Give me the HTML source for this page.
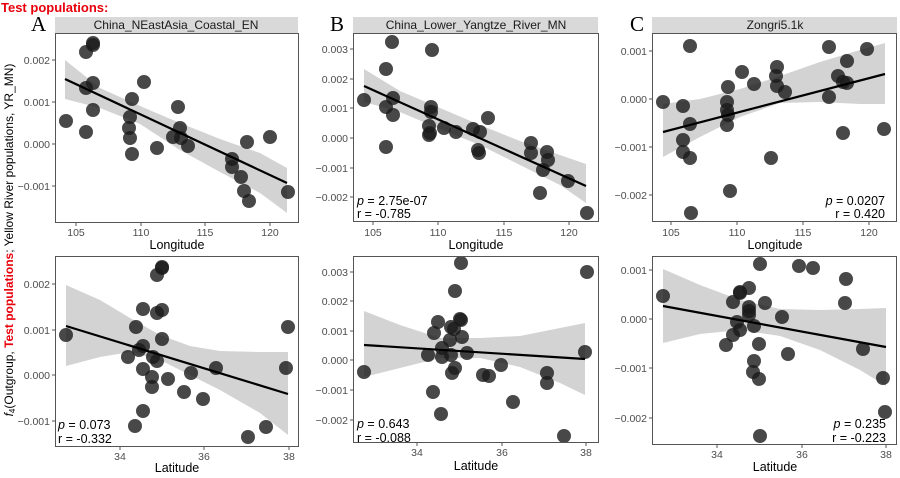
<!DOCTYPE html>
<html><head><meta charset="utf-8"><style>
body{margin:0;background:#fff;width:900px;height:478px;overflow:hidden}
svg{display:block;font-family:"Liberation Sans",sans-serif}
.tk{font-size:10.5px;fill:#4d4d4d}
.ax{font-size:12.5px;fill:#000}
.st{font-size:12px;fill:#1a1a1a}
.an{font-size:12.5px;fill:#000}
.pl{font-family:"Liberation Serif",serif;font-size:21px;fill:#000}
.band{fill:#d3d3d3}
.pt circle{fill:#1a1a1a;fill-opacity:0.8;r:7}
.fr{fill:none;stroke:#555;stroke-width:1}
.tl{stroke:#555;stroke-width:1}
.ln{stroke:#000;stroke-width:2.2}
</style></head><body>
<svg width="900" height="478" viewBox="0 0 900 478">
<text x="1" y="12" style="font-size:13px;font-weight:bold;fill:#e8000b">Test populations:</text>
<text transform="translate(13,240) rotate(-90)" text-anchor="middle" style="font-size:12px;fill:#000"><tspan font-style="italic">f</tspan><tspan font-size="8" dy="2">4</tspan><tspan dy="-2">(Outgroup, </tspan><tspan style="fill:#e8000b;font-weight:bold">Test populations</tspan><tspan>; Yellow River populations, YR_MN)</tspan></text>

<!-- Panel A top -->
<text class="pl" x="31" y="31">A</text>
<rect x="55" y="17" width="243" height="16" fill="#d9d9d9"/>
<text class="st" x="176" y="29" text-anchor="middle">China_NEastAsia_Coastal_EN</text>
<polygon class="band" points="65,60 100,88 140,106 180,123 220,139 260,153 287,168 287,213 260,193 220,172 180,150 140,124 100,108 65,99"/>
<g class="pt"><circle cx="66" cy="121"/><circle cx="86" cy="52"/><circle cx="93" cy="43"/><circle cx="93" cy="45"/><circle cx="86" cy="88"/><circle cx="93" cy="83"/><circle cx="93" cy="110"/><circle cx="86" cy="132"/><circle cx="132" cy="99"/><circle cx="130" cy="117"/><circle cx="129" cy="128"/><circle cx="130" cy="138"/><circle cx="132" cy="154"/><circle cx="144" cy="82"/><circle cx="157" cy="148"/><circle cx="178" cy="107"/><circle cx="180" cy="128"/><circle cx="173" cy="137"/><circle cx="181" cy="138"/><circle cx="188" cy="146"/><circle cx="232" cy="159"/><circle cx="232" cy="167"/><circle cx="241" cy="177"/><circle cx="244" cy="191"/><circle cx="247" cy="142"/><circle cx="249" cy="201"/><circle cx="270" cy="137"/><circle cx="288" cy="192"/></g>
<line class="ln" x1="65" y1="79" x2="287" y2="183"/>
<rect class="fr" x="55.5" y="33.5" width="243" height="189"/>
<g class="tl"><line x1="52" y1="60" x2="55" y2="60"/><line x1="52" y1="102" x2="55" y2="102"/><line x1="52" y1="144" x2="55" y2="144"/><line x1="52" y1="186" x2="55" y2="186"/>
<line x1="76" y1="223" x2="76" y2="226"/><line x1="141" y1="223" x2="141" y2="226"/><line x1="205" y1="223" x2="205" y2="226"/><line x1="270" y1="223" x2="270" y2="226"/></g>
<g class="tk" text-anchor="end"><text x="50" y="64">0.002</text><text x="50" y="106">0.001</text><text x="50" y="148">0.000</text><text x="50" y="190">−0.001</text></g>
<g class="tk" text-anchor="middle"><text x="76" y="236">105</text><text x="141" y="236">110</text><text x="205" y="236">115</text><text x="270" y="236">120</text></g>
<text class="ax" x="177" y="249" text-anchor="middle">Longitude</text>

<!-- Panel B top -->
<text class="pl" x="330" y="31">B</text>
<rect x="353" y="17" width="245" height="16" fill="#d9d9d9"/>
<text class="st" x="476" y="29" text-anchor="middle">China_Lower_Yangtze_River_MN</text>
<polygon class="band" points="364,69 400,91 440,108 480,125 520,141 560,155 586,164 586,203 560,185 520,165 480,145 440,129 400,112 364,102"/>
<g class="pt"><circle cx="364" cy="100"/><circle cx="386" cy="69"/><circle cx="392" cy="42"/><circle cx="386" cy="147"/><circle cx="386" cy="107"/><circle cx="393" cy="98"/><circle cx="393" cy="115"/><circle cx="432" cy="50"/><circle cx="431" cy="107"/><circle cx="431" cy="112"/><circle cx="429" cy="126"/><circle cx="429" cy="135"/><circle cx="430" cy="133"/><circle cx="444" cy="128"/><circle cx="456" cy="132"/><circle cx="473" cy="129"/><circle cx="480" cy="132"/><circle cx="478" cy="150"/><circle cx="479" cy="153"/><circle cx="488" cy="118"/><circle cx="531" cy="143"/><circle cx="531" cy="153"/><circle cx="540" cy="193"/><circle cx="543" cy="170"/><circle cx="547" cy="152"/><circle cx="548" cy="160"/><circle cx="568" cy="181"/><circle cx="587" cy="213"/></g>
<line class="ln" x1="364" y1="86" x2="586" y2="186"/>
<rect class="fr" x="353.5" y="33.5" width="245" height="188"/>
<g class="tl"><line x1="350" y1="49" x2="353" y2="49"/><line x1="350" y1="79" x2="353" y2="79"/><line x1="350" y1="108" x2="353" y2="108"/><line x1="350" y1="138" x2="353" y2="138"/><line x1="350" y1="168" x2="353" y2="168"/><line x1="350" y1="197" x2="353" y2="197"/>
<line x1="373" y1="222" x2="373" y2="225"/><line x1="438" y1="222" x2="438" y2="225"/><line x1="504" y1="222" x2="504" y2="225"/><line x1="569" y1="222" x2="569" y2="225"/></g>
<g class="tk" text-anchor="end"><text x="348" y="53">0.003</text><text x="348" y="83">0.002</text><text x="348" y="112">0.001</text><text x="348" y="142">0.000</text><text x="348" y="172">−0.001</text><text x="348" y="201">−0.002</text></g>
<g class="tk" text-anchor="middle"><text x="373" y="236">105</text><text x="438" y="236">110</text><text x="504" y="236">115</text><text x="569" y="236">120</text></g>
<text class="ax" x="476" y="249" text-anchor="middle">Longitude</text>
<text class="an" x="357" y="205"><tspan font-style="italic">p</tspan> = 2.75e-07</text>
<text class="an" x="357" y="218">r = -0.785</text>

<!-- Panel C top -->
<text class="pl" x="630" y="31">C</text>
<rect x="652" y="17" width="245" height="16" fill="#d9d9d9"/>
<text class="st" x="775" y="29" text-anchor="middle">Zongri5.1k</text>
<polygon class="band" points="663,104 700,99 740,89 780,76 820,62 860,50 885,43 885,104 860,104 820,102 780,103 740,117 700,137 663,157"/>
<g class="pt"><circle cx="663" cy="102"/><circle cx="683" cy="106"/><circle cx="683" cy="140"/><circle cx="683" cy="152"/><circle cx="690" cy="124"/><circle cx="690" cy="158"/><circle cx="690" cy="46"/><circle cx="691" cy="213"/><circle cx="728" cy="87"/><circle cx="727" cy="102"/><circle cx="727" cy="110"/><circle cx="728" cy="115"/><circle cx="727" cy="125"/><circle cx="730" cy="191"/><circle cx="742" cy="72"/><circle cx="754" cy="84"/><circle cx="771" cy="158"/><circle cx="776" cy="76"/><circle cx="777" cy="67"/><circle cx="777" cy="86"/><circle cx="785" cy="92"/><circle cx="829" cy="47"/><circle cx="829" cy="97"/><circle cx="838" cy="76"/><circle cx="843" cy="82"/><circle cx="847" cy="61"/><circle cx="847" cy="83"/><circle cx="843" cy="133"/><circle cx="867" cy="49"/><circle cx="884" cy="129"/></g>
<line class="ln" x1="663" y1="132" x2="885" y2="74"/>
<rect class="fr" x="652.5" y="33.5" width="244" height="188"/>
<g class="tl"><line x1="649" y1="51" x2="652" y2="51"/><line x1="649" y1="99" x2="652" y2="99"/><line x1="649" y1="147" x2="652" y2="147"/><line x1="649" y1="195" x2="652" y2="195"/>
<line x1="671" y1="222" x2="671" y2="225"/><line x1="737" y1="222" x2="737" y2="225"/><line x1="803" y1="222" x2="803" y2="225"/><line x1="869" y1="222" x2="869" y2="225"/></g>
<g class="tk" text-anchor="end"><text x="647" y="55">0.001</text><text x="647" y="103">0.000</text><text x="647" y="151">−0.001</text><text x="647" y="199">−0.002</text></g>
<g class="tk" text-anchor="middle"><text x="671" y="236">105</text><text x="737" y="236">110</text><text x="803" y="236">115</text><text x="869" y="236">120</text></g>
<text class="ax" x="775" y="249" text-anchor="middle">Longitude</text>
<text class="an" x="885" y="205" text-anchor="end"><tspan font-style="italic">p</tspan> = 0.0207</text>
<text class="an" x="885" y="218" text-anchor="end">r = 0.420</text>

<!-- Panel A bottom -->
<polygon class="band" points="66,285 100,300 130,318 160,335 190,346 220,351 260,352 288,352 288,435 260,413 220,390 190,375 160,360 130,352 100,357 66,366"/>
<g class="pt"><circle cx="66" cy="335"/><circle cx="136" cy="327"/><circle cx="143" cy="309"/><circle cx="143" cy="411"/><circle cx="135" cy="426"/><circle cx="128" cy="357"/><circle cx="139" cy="350"/><circle cx="143" cy="346"/><circle cx="157" cy="275"/><circle cx="162" cy="267"/><circle cx="162" cy="268"/><circle cx="157" cy="313"/><circle cx="162" cy="310"/><circle cx="162" cy="339"/><circle cx="153" cy="357"/><circle cx="157" cy="361"/><circle cx="143" cy="369"/><circle cx="152" cy="377"/><circle cx="152" cy="387"/><circle cx="168" cy="379"/><circle cx="184" cy="392"/><circle cx="191" cy="373"/><circle cx="203" cy="399"/><circle cx="216" cy="368"/><circle cx="248" cy="437"/><circle cx="266" cy="427"/><circle cx="286" cy="368"/><circle cx="288" cy="327"/></g>
<line class="ln" x1="66" y1="326" x2="288" y2="394"/>
<rect class="fr" x="55.5" y="256.5" width="243" height="190"/>
<g class="tl"><line x1="52" y1="284" x2="55" y2="284"/><line x1="52" y1="330" x2="55" y2="330"/><line x1="52" y1="375" x2="55" y2="375"/><line x1="52" y1="421" x2="55" y2="421"/>
<line x1="120" y1="447" x2="120" y2="450"/><line x1="204" y1="447" x2="204" y2="450"/><line x1="289" y1="447" x2="289" y2="450"/></g>
<g class="tk" text-anchor="end"><text x="50" y="288">0.002</text><text x="50" y="334">0.001</text><text x="50" y="379">0.000</text><text x="50" y="425">−0.001</text></g>
<g class="tk" text-anchor="middle"><text x="120" y="460">34</text><text x="204" y="460">36</text><text x="289" y="460">38</text></g>
<text class="ax" x="177" y="472" text-anchor="middle">Latitude</text>
<text class="an" x="58" y="429"><tspan font-style="italic">p</tspan> = 0.073</text>
<text class="an" x="58" y="443">r = -0.332</text>

<!-- Panel B bottom -->
<polygon class="band" points="364,311 400,325 440,338 480,338 520,336 560,328 585,323 585,395 560,383 520,367 480,358 440,358 400,368 364,377"/>
<g class="pt"><circle cx="364" cy="372"/><circle cx="433" cy="392"/><circle cx="441" cy="414"/><circle cx="438" cy="322"/><circle cx="434" cy="333"/><circle cx="428" cy="355"/><circle cx="442" cy="348"/><circle cx="442" cy="357"/><circle cx="455" cy="291"/><circle cx="461" cy="263"/><circle cx="461" cy="320"/><circle cx="460" cy="319"/><circle cx="451" cy="327"/><circle cx="454" cy="329"/><circle cx="462" cy="337"/><circle cx="450" cy="340"/><circle cx="451" cy="355"/><circle cx="455" cy="368"/><circle cx="452" cy="373"/><circle cx="467" cy="353"/><circle cx="483" cy="375"/><circle cx="489" cy="376"/><circle cx="501" cy="365"/><circle cx="513" cy="402"/><circle cx="547" cy="373"/><circle cx="547" cy="383"/><circle cx="564" cy="436"/><circle cx="587" cy="272"/><circle cx="585" cy="352"/></g>
<line class="ln" x1="364" y1="345" x2="585" y2="359"/>
<rect class="fr" x="353.5" y="256.5" width="245" height="186"/>
<g class="tl"><line x1="350" y1="272" x2="353" y2="272"/><line x1="350" y1="301" x2="353" y2="301"/><line x1="350" y1="331" x2="353" y2="331"/><line x1="350" y1="360" x2="353" y2="360"/><line x1="350" y1="390" x2="353" y2="390"/><line x1="350" y1="420" x2="353" y2="420"/>
<line x1="417" y1="443" x2="417" y2="446"/><line x1="502" y1="443" x2="502" y2="446"/><line x1="586" y1="443" x2="586" y2="446"/></g>
<g class="tk" text-anchor="end"><text x="348" y="276">0.003</text><text x="348" y="305">0.002</text><text x="348" y="335">0.001</text><text x="348" y="364">0.000</text><text x="348" y="394">−0.001</text><text x="348" y="424">−0.002</text></g>
<g class="tk" text-anchor="middle"><text x="417" y="456">34</text><text x="502" y="456">36</text><text x="586" y="456">38</text></g>
<text class="ax" x="476" y="470" text-anchor="middle">Latitude</text>
<text class="an" x="357" y="428"><tspan font-style="italic">p</tspan> = 0.643</text>
<text class="an" x="357" y="442">r = -0.088</text>

<!-- Panel C bottom -->
<polygon class="band" points="663,269 700,285 740,300 780,309 820,310 860,309 886,308 886,386 860,370 820,350 780,336 740,330 700,334 663,343"/>
<g class="pt"><circle cx="663" cy="296"/><circle cx="726" cy="345"/><circle cx="733" cy="302"/><circle cx="733" cy="335"/><circle cx="737" cy="322"/><circle cx="740" cy="330"/><circle cx="740" cy="292"/><circle cx="740" cy="293"/><circle cx="749" cy="288"/><circle cx="749" cy="307"/><circle cx="749" cy="311"/><circle cx="749" cy="315"/><circle cx="754" cy="326"/><circle cx="760" cy="264"/><circle cx="765" cy="303"/><circle cx="759" cy="344"/><circle cx="754" cy="361"/><circle cx="753" cy="372"/><circle cx="759" cy="379"/><circle cx="760" cy="436"/><circle cx="782" cy="317"/><circle cx="788" cy="354"/><circle cx="799" cy="266"/><circle cx="813" cy="268"/><circle cx="846" cy="279"/><circle cx="845" cy="303"/><circle cx="863" cy="349"/><circle cx="883" cy="378"/><circle cx="885" cy="412"/></g>
<line class="ln" x1="663" y1="306" x2="886" y2="347"/>
<rect class="fr" x="652.5" y="256.5" width="244" height="188"/>
<g class="tl"><line x1="649" y1="270" x2="652" y2="270"/><line x1="649" y1="319" x2="652" y2="319"/><line x1="649" y1="368" x2="652" y2="368"/><line x1="649" y1="418" x2="652" y2="418"/>
<line x1="717" y1="445" x2="717" y2="448"/><line x1="802" y1="445" x2="802" y2="448"/><line x1="886" y1="445" x2="886" y2="448"/></g>
<g class="tk" text-anchor="end"><text x="647" y="274">0.001</text><text x="647" y="323">0.000</text><text x="647" y="372">−0.001</text><text x="647" y="422">−0.002</text></g>
<g class="tk" text-anchor="middle"><text x="717" y="458">34</text><text x="802" y="458">36</text><text x="886" y="458">38</text></g>
<text class="ax" x="775" y="471" text-anchor="middle">Latitude</text>
<text class="an" x="886" y="428" text-anchor="end"><tspan font-style="italic">p</tspan> = 0.235</text>
<text class="an" x="886" y="442" text-anchor="end">r = -0.223</text>
</svg>
</body></html>
